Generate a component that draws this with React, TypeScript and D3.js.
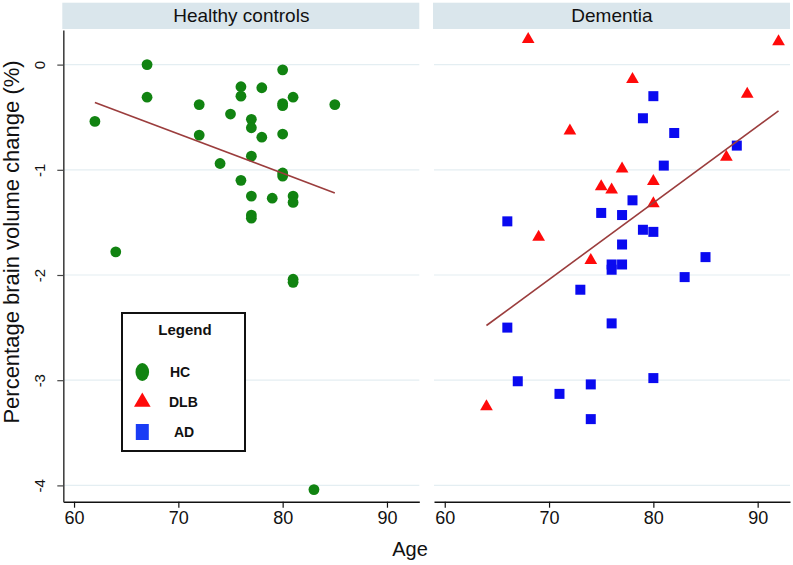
import React, { useRef, useEffect } from 'react';
import * as d3 from 'd3';

// Healthy controls
const hcAge = [67, 80, 76, 78, 67, 76, 81, 72, 80, 80, 85, 62, 75, 77, 77, 72, 78, 80, 77, 74, 80, 80, 76, 77, 79, 81, 81, 77, 77, 64, 81, 81, 83];
const hcChange = [0.0, -0.05, -0.21, -0.22, -0.31, -0.30, -0.31, -0.38, -0.37, -0.39, -0.38, -0.54, -0.47, -0.52, -0.60, -0.67, -0.69, -0.66, -0.87, -0.94, -1.03, -1.06, -1.10, -1.25, -1.27, -1.25, -1.31, -1.43, -1.46, -1.78, -2.04, -2.07, -4.04];

// Dementia with Lewy bodies
const dlbAge = [68, 92, 78, 89, 72, 87, 77, 80, 75, 76, 80, 69, 74, 64];
const dlbChange = [0.24, 0.22, -0.14, -0.28, -0.63, -0.88, -0.99, -1.11, -1.16, -1.19, -1.32, -1.64, -1.86, -3.25];

// Alzheimer's disease
const adAge = [80, 79, 82, 88, 81, 78, 75, 77, 66, 79, 80, 77, 85, 76, 76, 77, 83, 73, 66, 76, 80, 67, 74, 71, 74];
const adChange = [-0.30, -0.51, -0.65, -0.77, -0.96, -1.29, -1.41, -1.43, -1.49, -1.57, -1.59, -1.71, -1.83, -1.90, -1.95, -1.90, -2.02, -2.14, -2.50, -2.46, -2.98, -3.01, -3.04, -3.13, -3.37];

// fitted lines (endpoints)
const hcFitAge = [62, 85];
const hcFitChange = [-0.36, -1.22];
const demFitAge = [64, 92];
const demFitChange = [-2.48, -0.44];

const xTicks = [60, 70, 80, 90];
const yTicks = [0, -1, -2, -3, -4];
const panelTitles = ['Healthy controls', 'Dementia'];
const legendLabels = ['HC', 'DLB', 'AD'];

const FONT = "'Liberation Sans', Arial, Helvetica, sans-serif";
const GREEN = '#118311';
const RED = '#ff0a0a';
const BLUE = '#0a0af0';
const FIT = '#9b3d3d';

const App: React.FC = () => {
  const svgRef = useRef<SVGSVGElement>(null);
  const width = 793;
  const height = 565;

  useEffect(() => {
    if (!svgRef.current) return;
    const svg = d3.select(svgRef.current);
    svg.selectAll('*').remove();

    const top = 30;
    const bottom = 501.7;
    const panelW = 356;
    const panelX = [63.3, 434];

    const y = d3.scaleLinear().domain([0.329, -4.155]).range([top, bottom]);

    panelX.forEach((x0, pi) => {
      const x = d3.scaleLinear().domain([58.97, 93.1]).range([x0, x0 + panelW]);
      const g = svg.append('g');

      // title strip
      g.append('rect')
        .attr('x', x0 - 1)
        .attr('y', 2.7)
        .attr('width', panelW + 1)
        .attr('height', 26.3)
        .attr('fill', '#dae6ec');
      g.append('text')
        .attr('x', x0 + panelW / 2)
        .attr('y', 22)
        .attr('text-anchor', 'middle')
        .style('font-family', FONT)
        .style('font-size', '19px')
        .attr('fill', '#111')
        .text(panelTitles[pi]);

      // gridlines
      g.selectAll('.grid')
        .data(yTicks)
        .join('line')
        .attr('x1', x0)
        .attr('x2', x0 + panelW)
        .attr('y1', d => y(d))
        .attr('y2', d => y(d))
        .attr('stroke', '#e4eef2')
        .attr('stroke-width', 1.2);

      // x axis
      const xAxis = d3.axisBottom(x)
        .tickValues(xTicks)
        .tickSizeInner(6)
        .tickSizeOuter(0)
        .tickPadding(4)
        .tickFormat(d => String(d));
      const xg = g.append('g')
        .attr('transform', `translate(0,${bottom})`)
        .call(xAxis);
      xg.select('.domain').attr('stroke', '#111').attr('stroke-width', 1.4);
      xg.selectAll('.tick line').attr('stroke', '#111').attr('stroke-width', 1.2);
      xg.selectAll('.tick text')
        .style('font-family', FONT)
        .style('font-size', '18px')
        .attr('fill', '#111');

      // y axis only on left panel
      if (pi === 0) {
        const yAxis = d3.axisLeft(y)
          .tickValues(yTicks)
          .tickSizeInner(6)
          .tickSizeOuter(0)
          .tickFormat(d => String(d));
        const yg = g.append('g')
          .attr('transform', `translate(${x0},0)`)
          .call(yAxis);
        yg.select('.domain').attr('stroke', '#444').attr('stroke-width', 1.6);
        yg.selectAll('.tick line').attr('stroke', '#444').attr('stroke-width', 1.2);
        yg.selectAll('.tick text')
          .attr('x', null)
          .attr('dy', null)
          .attr('transform', 'translate(-18,0) rotate(-90)')
          .attr('text-anchor', 'middle')
          .style('font-family', FONT)
          .style('font-size', '15px')
          .attr('fill', '#111');
      }

      const line = d3.line<[number, number]>()
        .x(d => x(d[0]))
        .y(d => y(d[1]));

      if (pi === 0) {
        g.selectAll('.hc')
          .data(d3.zip(hcAge, hcChange))
          .join('circle')
          .attr('cx', d => x(d[0]))
          .attr('cy', d => y(d[1]))
          .attr('r', 5.4)
          .attr('fill', GREEN);

        g.append('path')
          .datum(d3.zip(hcFitAge, hcFitChange) as [number, number][])
          .attr('d', line)
          .attr('fill', 'none')
          .attr('stroke', FIT)
          .attr('stroke-width', 1.6);
      } else {
        const tri = d3.symbol().type(d3.symbolTriangle).size(70);
        g.selectAll('.dlb')
          .data(d3.zip(dlbAge, dlbChange))
          .join('path')
          .attr('d', tri)
          .attr('transform', d => `translate(${x(d[0])},${y(d[1])})`)
          .attr('fill', RED);

        g.selectAll('.ad')
          .data(d3.zip(adAge, adChange))
          .join('rect')
          .attr('x', d => x(d[0]) - 5)
          .attr('y', d => y(d[1]) - 5)
          .attr('width', 10)
          .attr('height', 10)
          .attr('fill', BLUE);

        g.append('path')
          .datum(d3.zip(demFitAge, demFitChange) as [number, number][])
          .attr('d', line)
          .attr('fill', 'none')
          .attr('stroke', FIT)
          .attr('stroke-width', 1.6);
      }
    });

    // axis titles
    svg.append('text')
      .attr('transform', 'translate(19,242) rotate(-90)')
      .attr('text-anchor', 'middle')
      .style('font-family', FONT)
      .style('font-size', '22px')
      .attr('fill', '#111')
      .text('Percentage brain volume change (%)');

    svg.append('text')
      .attr('x', 410)
      .attr('y', 556)
      .attr('text-anchor', 'middle')
      .style('font-family', FONT)
      .style('font-size', '20px')
      .attr('fill', '#111')
      .text('Age');

    // legend
    const lg = svg.append('g');
    lg.append('rect')
      .attr('x', 122)
      .attr('y', 313)
      .attr('width', 123)
      .attr('height', 138)
      .attr('fill', '#fff')
      .attr('stroke', '#111')
      .attr('stroke-width', 2);
    lg.append('text')
      .attr('x', 185)
      .attr('y', 335)
      .attr('text-anchor', 'middle')
      .style('font-family', FONT)
      .style('font-size', '15px')
      .style('font-weight', 'bold')
      .attr('fill', '#111')
      .text('Legend');

    const rowY = [372, 402, 432];
    const textX = [170, 169, 174];
    lg.append('ellipse')
      .attr('cx', 142.3).attr('cy', rowY[0])
      .attr('rx', 6.8).attr('ry', 9)
      .attr('fill', GREEN);
    lg.append('path')
      .attr('d', d3.symbol().type(d3.symbolTriangle).size(120)())
      .attr('transform', `translate(142.3,${rowY[1]})`)
      .attr('fill', RED);
    lg.append('rect')
      .attr('x', 135.8).attr('y', rowY[2] - 8)
      .attr('width', 13).attr('height', 16)
      .attr('fill', '#1a3cf5');

    legendLabels.forEach((lab, i) => {
      lg.append('text')
        .attr('x', textX[i])
        .attr('y', rowY[i] + 5)
        .style('font-family', FONT)
        .style('font-size', '14px')
        .style('font-weight', 'bold')
        .attr('fill', '#111')
        .text(lab);
    });
  }, []);

  return (
    <svg
      ref={svgRef}
      width={width}
      height={height}
      style={{ position: 'absolute', left: 0, top: 0, background: '#fff' }}
    />
  );
};

export default App;
